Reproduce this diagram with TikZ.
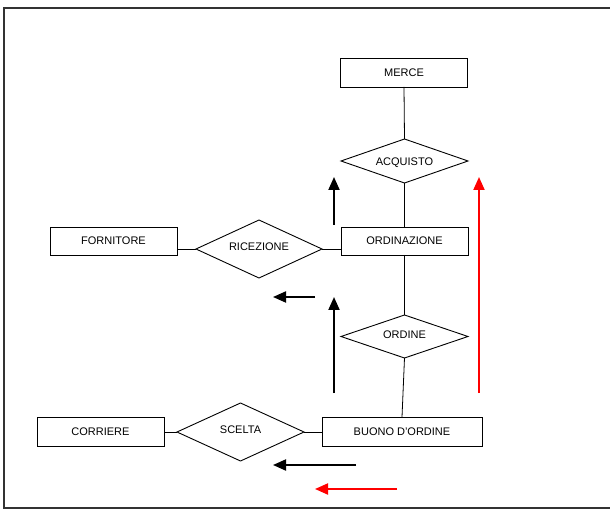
\documentclass[tikz,border=0pt]{standalone}
\usepackage{fontspec}
\setmainfont{Liberation Sans}
\usetikzlibrary{shapes.geometric,arrows.meta}
% label of a relationship: no width, so the diamond takes its size from the minimum width/height;
% the optional argument sets how far the baseline sits below the centre
\newcommand{\rellabel}[2][1.5pt]{\makebox[0pt]{\raisebox{-#1}[0pt][0pt]{#2}}}
\begin{document}
\begin{tikzpicture}[x=1pt,y=-1pt,
  label font/.style={font=\fontsize{11}{13}\selectfont},
  entity/.style={draw,line width=0.9pt,rectangle,minimum width=127pt,
    minimum height=28pt,inner sep=0pt,outer sep=0pt,label font},
  relation/.style={draw,line width=0.9pt,diamond,minimum width=127pt,
    inner sep=0pt,outer sep=0pt,label font},
  link/.style={line width=0.8pt},
  flow/.style={line width=2pt,-{Triangle[length=13pt,width=11pt]}},
  redflow/.style={flow,draw=red,color=red},
]
\useasboundingbox (0,0) rectangle (610,510);
\clip (0,0) rectangle (610,510);
% outer frame (open to the right)
\draw[line width=1.6pt,black!80] (4,8) rectangle (640,508);

% entities
\node[entity,minimum height=29pt] (merce) at (404,72.5) {MERCE};
\node[entity] (ordinazione) at (404.5,241) {ORDINAZIONE};
\node[entity] (fornitore) at (113.5,241) {FORNITORE};
\node[entity,minimum width=160pt,minimum height=29pt] (buono) at (402,431.5) {BUONO D'ORDINE};
\node[entity,minimum height=29pt] (corriere) at (100.5,431.5) {CORRIERE};

% relationships
\node[relation,minimum height=44pt] (acquisto) at (404.5,161) {\rellabel[4.5pt]{ACQUISTO}};
\node[relation,minimum width=126pt,minimum height=58pt] (ricezione) at (259,249) {\rellabel{RICEZIONE}};
\node[relation,minimum height=43pt] (ordine) at (404.5,336.5) {\rellabel[2pt]{ORDINE}};
\node[relation,minimum height=58pt] (scelta) at (240.5,432) {\rellabel{SCELTA}};

% links
\draw[link] (merce.south) -- (acquisto.north);
\draw[link] (acquisto.south) -- (ordinazione.north);
\draw[link] (ordinazione.south) -- (ordine.north);
\draw[link] (ordine.south) -- (buono.north);
\draw[link] (ricezione.west) -- (ricezione.west -| fornitore.east);
\draw[link] (ricezione.east) -- (ricezione.east -| ordinazione.west);
\draw[link] (scelta.west) -- (scelta.west -| corriere.east);
\draw[link] (scelta.east) -- (scelta.east -| buono.west);

% flow arrows
\coordinate (u1a) at (334,225); \coordinate (u1b) at (334,177);
\coordinate (u2a) at (334,393); \coordinate (u2b) at (334,297);
\coordinate (l1a) at (315,297); \coordinate (l1b) at (273,297);
\coordinate (l2a) at (356,465); \coordinate (l2b) at (273,465);
\coordinate (rua) at (479,393); \coordinate (rub) at (479,177);
\coordinate (rla) at (397,489); \coordinate (rlb) at (315,489);
\draw[flow] (u1a) -- (u1b);
\draw[flow] (u2a) -- (u2b);
\draw[flow] (l1a) -- (l1b);
\draw[flow] (l2a) -- (l2b);
\draw[redflow] (rua) -- (rub);
\draw[redflow] (rla) -- (rlb);
\end{tikzpicture}
\end{document}
